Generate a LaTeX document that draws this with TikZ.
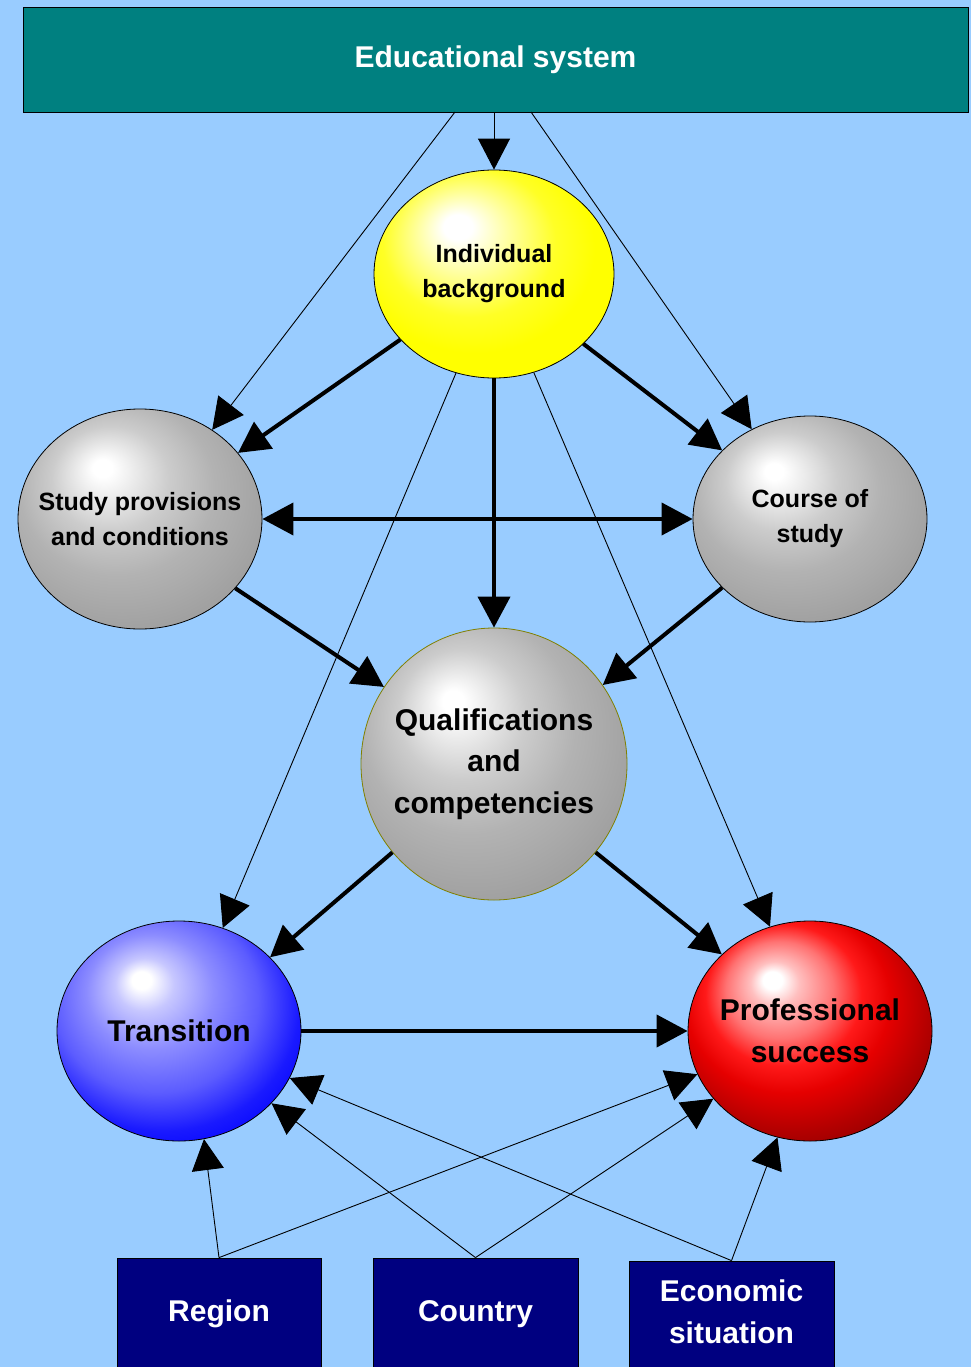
\documentclass[tikz,border=0pt]{standalone}
\usepackage{fontspec}
\setmainfont{Liberation Sans}
\usetikzlibrary{shapes.geometric,arrows.meta}
\definecolor{bgblue}{HTML}{99CCFF}
\definecolor{esteal}{HTML}{008080}
\definecolor{navybox}{HTML}{000080}
\definecolor{olivedge}{HTML}{808000}
\pgfdeclareradialshading{grayball}{\pgfpoint{-8bp}{12bp}}{%
 rgb(0bp)=(1,1,1); rgb(2bp)=(1,1,1); rgb(5bp)=(0.94,0.94,0.94); rgb(12bp)=(0.80,0.80,0.80);
 rgb(20bp)=(0.70,0.70,0.70); rgb(30bp)=(0.63,0.63,0.63); rgb(50bp)=(0.60,0.60,0.60)}
\pgfdeclareradialshading{yellowball}{\pgfpoint{-8bp}{12bp}}{%
 rgb(0bp)=(1,1,1); rgb(3bp)=(1,1,1); rgb(10bp)=(1,1,0.6); rgb(18bp)=(1,1,0.15);
 rgb(25bp)=(1,1,0); rgb(50bp)=(1,1,0)}
\pgfdeclareradialshading{blueball}{\pgfpoint{-8bp}{12bp}}{%
 rgb(0bp)=(1,1,1); rgb(2bp)=(1,1,1); rgb(6bp)=(0.78,0.78,1); rgb(13bp)=(0.55,0.55,1);
 rgb(21bp)=(0.36,0.36,1); rgb(28bp)=(0.1,0.1,1); rgb(34bp)=(0,0,1); rgb(50bp)=(0,0,1)}
\pgfdeclareradialshading{redball}{\pgfpoint{-8bp}{12bp}}{%
 rgb(0bp)=(1,1,1); rgb(2bp)=(1,1,1); rgb(5bp)=(1,0.75,0.75); rgb(11bp)=(1,0.45,0.45);
 rgb(16bp)=(1,0.1,0.1); rgb(21bp)=(0.9,0,0); rgb(28bp)=(0.7,0,0); rgb(36bp)=(0.5,0,0); rgb(50bp)=(0.44,0,0)}
\tikzset{
  ball/.style={ellipse, draw=black, line width=0.8pt, inner sep=0pt},
  balltext/.style={font=\bfseries\fontsize{25}{35}\selectfont, align=center, text=black},
  bigtext/.style={font=\bfseries\fontsize{30}{41.5}\selectfont, align=center, text=black},
  topbox/.style={draw=black, line width=0.8pt, fill=esteal, text=white, inner sep=0pt,
    font=\bfseries\fontsize{30}{36}\selectfont},
  factorbox/.style={draw=black, line width=0.8pt, fill=navybox, text=white, inner sep=0pt,
    align=center, font=\bfseries\fontsize{30}{42}\selectfont},
  thickarr/.style={line width=4pt, -{Triangle[length=31pt,width=32pt]}},
  thinarr/.style={line width=0.9pt, -{Triangle[length=31pt,width=32pt]}},
}
\begin{document}
\begin{tikzpicture}[x=1pt, y=-1pt]
\useasboundingbox (0,0) rectangle (971,1367);
\fill[bgblue] (0,0) rectangle (971,1367);

% top box
\node[topbox, minimum width=945pt, minimum height=105pt] (ES) at (495.5,59.5) {Educational system};
\coordinate (es1) at (455,112);
\coordinate (es3) at (531,112);

% ellipses
\node[ball, shading=yellowball, minimum width=240pt, minimum height=208pt,
  label={[balltext]center:{Individual\\background}}] (IB) at (494,274) {};
\node[ball, shading=grayball, minimum width=244pt, minimum height=220pt,
  label={[balltext]center:{Study provisions\\and conditions}}] (SP) at (140,519) {};
\node[ball, shading=grayball, minimum width=234pt, minimum height=206pt,
  label={[balltext]center:{Course of\\study}}] (CS) at (810,519) {};
\node[ball, draw=olivedge, shading=grayball, minimum width=266pt, minimum height=272pt,
  label={[bigtext]center:{Qualifications\\and\\competencies}}] (QC) at (494,764) {};
\node[ball, shading=blueball, minimum width=244pt, minimum height=220pt,
  label={[bigtext]center:{Transition}}] (TR) at (179,1031) {};
\node[ball, shading=redball, minimum width=244pt, minimum height=220pt,
  label={[bigtext]center:{Professional\\success}}] (PS) at (810,1031) {};

% bottom boxes
\node[factorbox, minimum width=204pt, minimum height=112pt] (RG) at (219,1314) {Region};
\node[factorbox, minimum width=205pt, minimum height=112pt] (CO) at (475.5,1314) {Country};
\node[factorbox, minimum width=205pt, minimum height=109pt,
  label={[factorbox, draw=none, fill=none, yshift=4pt]center:{Economic\\situation}}] (EC) at (731.5,1315.5) {};

% thin connectors from top
\draw[thinarr] (es1) -- (SP.51.6);
\draw[thinarr] (IB.north |- ES.south) -- (IB.north);
\draw[thinarr] (es3) -- (CS.123.4);

% from individual background
\draw[thickarr] (IB.215.1) -- (SP.34.6);
\draw[thickarr] (IB.322.3) -- (CS.142.5);
\draw[thickarr] (IB.south) -- (QC.north);
\draw[thinarr] (IB.249.4) -- (TR.67.3);
\draw[thinarr] (IB.292.6) -- (PS.111.2);

% study provisions <-> course of study
\draw[line width=4pt, {Triangle[length=31pt,width=32pt]}-{Triangle[length=31pt,width=32pt]}] (SP.east) -- (CS.west);

% to qualifications
\draw[thickarr] (SP.324.9) -- (QC.145.8);
\draw[thickarr] (CS.218.9) -- (QC.36.9);

% from qualifications
\draw[thickarr] (QC.221.1) -- (TR.39.9);
\draw[thickarr] (QC.319.8) -- (PS.139.8);

% transition -> professional success
\draw[thickarr] (TR.east) -- (PS.west);

% bottom factors
\draw[thinarr] (RG.north) -- (TR.283.4);
\draw[thinarr] (RG.north) -- (PS.201.3);
\draw[thinarr] (CO.north) -- (TR.322.4);
\draw[thinarr] (CO.north) -- (PS.215.1);
\draw[thinarr] (EC.north) -- (TR.337.4);
\draw[thinarr] (EC.north) -- (PS.253.6);
\end{tikzpicture}
\end{document}
